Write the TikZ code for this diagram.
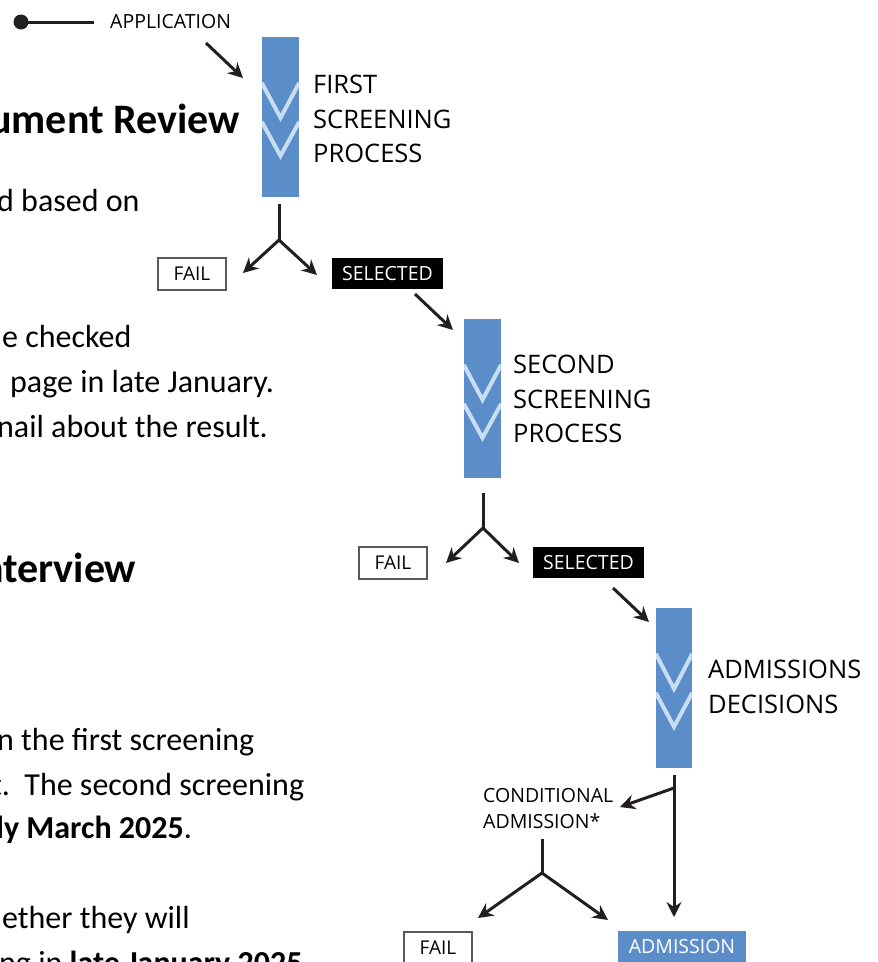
\documentclass[tikz,border=0pt]{standalone}
\usepackage{fontspec}
\setmainfont{Open Sans}
\newfontfamily\bodyfont{Carlito}
\usetikzlibrary{arrows.meta}
\definecolor{barblue}{RGB}{91,141,201}
\definecolor{chevblue}{RGB}{200,221,242}
\definecolor{ink}{RGB}{35,31,32}
\tikzset{
  bar/.style={fill=barblue, draw=none, minimum width=37pt, minimum height=160pt, inner sep=0pt},
  chev/.style={draw=chevblue, line width=4pt},
  conn/.style={draw=ink, line width=3pt},
  arr/.style={conn, -{Stealth[length=15pt,width=15pt,inset=5pt]}},
  lbl/.style={font=\fontsize{25.5}{34.5}\selectfont, align=left, anchor=west, inner sep=0pt, text=black},
  smalltxt/.style={font=\fontsize{19.5}{26}\selectfont, text=black},
  failbox/.style={draw=black!65, line width=1.2pt, fill=white, minimum width=68pt, minimum height=32pt, inner sep=0pt, font=\fontsize{19}{26}\selectfont, text=black},
  selbox/.style={fill=black, text=white, minimum width=111pt, minimum height=31pt, inner sep=0pt, font=\fontsize{19.5}{26}\selectfont},
  admbox/.style={fill=barblue, text=white, minimum width=128pt, minimum height=32pt, inner sep=0pt, font=\fontsize{19.5}{26}\selectfont},
  bodytxt/.style={font=\bodyfont\fontsize{32}{44}\selectfont, anchor=base west, inner sep=0pt, text=black},
  headtxt/.style={font=\bodyfont\bfseries\fontsize{42}{50}\selectfont, anchor=base west, inner sep=0pt, text=black},
}
\newcommand\chevrons[1]{%
  \begin{scope}
    \clip (#1.south west) rectangle (#1.north east);
    \draw[chev] ([yshift=-46pt]#1.north west) -- ([yshift=-81pt]#1.north) -- ([yshift=-46pt]#1.north east);
    \draw[chev] ([yshift=-85pt]#1.north west) -- ([yshift=-119pt]#1.north) -- ([yshift=-85pt]#1.north east);
  \end{scope}}
\begin{document}
\begin{tikzpicture}[x=1pt,y=-1pt]
\useasboundingbox (0,0) rectangle (878,962);
% left document text (clipped at the left edge)
\node[headtxt] (h1) at (-11,133) {ument Review};
\node[bodytxt] (p1) at (-3,211) {d based on};
\node[bodytxt] (p2) at (2,347) {e checked};
\node[bodytxt] (p3) at (10,392) {page in late January.};
\node[bodytxt] (p4) at (-3,437) {nail about the result.};
\node[headtxt] (h2) at (-19,582) {nterview};
\node[bodytxt] (p5) at (-3,750) {n the first screening};
\node[bodytxt] (p6) at (-9,795) {t.\ \ The second screening};
\node[bodytxt] (p7) at (-4,838) {\textbf{ly March 2025}.};
\node[bodytxt] (p8) at (2,928) {ether they will};
\node[bodytxt] (p9) at (-1,973) {ng in \textbf{late January 2025}};
% application start
\coordinate (dot) at (21,22);
\coordinate (dotline) at (94,22);
\draw[conn] (dot) -- (dotline);
\fill[ink] (dot) circle (7.5);
\node[smalltxt, anchor=west, inner sep=0pt] (app) at (110,22) {APPLICATION};
\coordinate (a1s) at (206,43);
\coordinate (a1e) at (243,78);
\draw[arr] (a1s) -- (a1e);
% first screening
\node[bar] (bar1) at (280.5,117) {};
\chevrons{bar1}
\node[lbl] (l1) at (313,119) {FIRST\\SCREENING\\PROCESS};
\coordinate (s1) at (279,204);
\coordinate (j1) at (279,240);
\coordinate (t1l) at (243,273);
\coordinate (t1r) at (317,275);
\draw[conn] (s1) -- (j1);
\draw[arr] (j1) -- (t1l);
\draw[arr] (j1) -- (t1r);
\node[failbox] (f1) at (192,274) {FAIL};
\node[selbox] (sel1) at (387.5,273.5) {SELECTED};
\coordinate (a2s) at (415,294);
\coordinate (a2e) at (453,330);
\draw[arr] (a2s) -- (a2e);
% second screening
\node[bar, minimum height=159pt] (bar2) at (482.5,398.5) {};
\chevrons{bar2}
\node[lbl] (l2) at (513,399) {SECOND\\SCREENING\\PROCESS};
\coordinate (s2) at (483,493);
\coordinate (j2) at (483,528);
\coordinate (t2l) at (446,563);
\coordinate (t2r) at (519,563);
\draw[conn] (s2) -- (j2);
\draw[arr] (j2) -- (t2l);
\draw[arr] (j2) -- (t2r);
\node[failbox] (f2) at (393,563) {FAIL};
\node[selbox] (sel2) at (588.5,562.5) {SELECTED};
\coordinate (a3s) at (613,588);
\coordinate (a3e) at (649,622);
\draw[arr] (a3s) -- (a3e);
% admissions decisions
\node[bar, minimum width=36pt] (bar3) at (674,688) {};
\chevrons{bar3}
\node[lbl] (l3) at (708,687) {ADMISSIONS\\DECISIONS};
\coordinate (s3) at (674,775);
\coordinate (j3) at (674,788);
\coordinate (t3) at (674,917);
\coordinate (t3c) at (620,807);
\draw[conn] (s3) -- (j3);
\draw[arr] (j3) -- (t3);
\draw[arr] (j3) -- (t3c);
\node[smalltxt, align=left, anchor=west, inner sep=0pt] (cond) at (483,809) {CONDITIONAL\\ADMISSION*};
\coordinate (s4) at (542,839);
\coordinate (j4) at (542,873);
\coordinate (t4l) at (478,918);
\coordinate (t4r) at (608,920);
\draw[conn] (s4) -- (j4);
\draw[arr] (j4) -- (t4l);
\draw[arr] (j4) -- (t4r);
\node[failbox] (f3) at (438,948) {FAIL};
\node[admbox] (adm) at (682,947) {ADMISSION};
\end{tikzpicture}
\end{document}
